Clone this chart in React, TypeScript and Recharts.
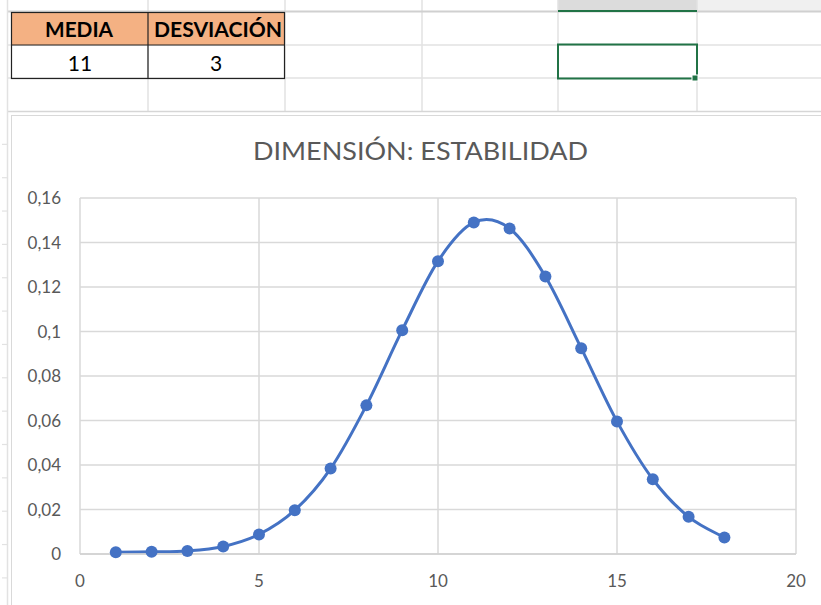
import React from 'react';
import { LineChart, Line, XAxis, YAxis, CartesianGrid } from 'recharts';

const xValues = [1, 2, 3, 4, 5, 6, 7, 8, 9, 10, 11, 12, 13, 14, 15, 16, 17, 18];
const densities = [0.0008, 0.001, 0.0014, 0.0034, 0.0088, 0.0197, 0.0384, 0.0668, 0.1006, 0.1316, 0.149, 0.1463, 0.1247, 0.0925, 0.0596, 0.0336, 0.0167, 0.0074];
const xTicks = [0, 5, 10, 15, 20];
const yTicks = [0, 0.02, 0.04, 0.06, 0.08, 0.1, 0.12, 0.14, 0.16];
const tableHeaders = ['MEDIA', 'DESVIACIÓN'];
const tableValues = ['11', '3'];
const chartTitle = 'DIMENSIÓN: ESTABILIDAD';

const data = xValues.map((x, i) => ({ x, y: densities[i] }));

// Excel-like smoothed line (Catmull-Rom style Bezier)
const excelCurve = (context: any) => {
  let pts: number[][] = [];
  return {
    areaStart() {},
    areaEnd() {},
    lineStart() { pts = []; },
    lineEnd() {
      const n = pts.length;
      if (!n) return;
      context.moveTo(pts[0][0], pts[0][1]);
      for (let i = 0; i < n - 1; i++) {
        const p0 = pts[i - 1] || pts[i];
        const p1 = pts[i];
        const p2 = pts[i + 1];
        const p3 = pts[i + 2] || p2;
        context.bezierCurveTo(
          p1[0] + (p2[0] - p0[0]) / 6, p1[1] + (p2[1] - p0[1]) / 6,
          p2[0] - (p3[0] - p1[0]) / 6, p2[1] - (p3[1] - p1[1]) / 6,
          p2[0], p2[1]
        );
      }
    },
    point(x: number, y: number) { pts.push([+x, +y]); },
  };
};

const FONT = 'Lato, "Open Sans", sans-serif';
const GRID = '#d9d9d9';
const SHEET = '#e2e2e2';

const colLines = [148, 285, 422, 558, 697];
const rowLines = [45, 78];
const leftTicks: number[] = [];
for (let k = 1; k < 15; k++) leftTicks.push(111 + k * 33.35);

export default function App() {
  return (
    <div style={{ position: 'absolute', left: 0, top: 0, width: 821, height: 605, background: '#fff', overflow: 'hidden' }}>
      <svg width={821} height={605} style={{ position: 'absolute', left: 0, top: 0 }}>
        {/* top strip */}
        <rect x={558} y={0} width={139} height={11} fill="#dcdcdc" />
        <rect x={697} y={0} width={124} height={11} fill="#f0f0f0" />
        {/* sheet grid */}
        {colLines.map((x) => (
          <line key={'c' + x} x1={x} y1={0} x2={x} y2={112} stroke={SHEET} strokeWidth={1.5} />
        ))}
        {rowLines.map((y) => (
          <line key={'r' + y} x1={8} y1={y} x2={821} y2={y} stroke={SHEET} strokeWidth={1.5} />
        ))}
        <line x1={8} y1={11.5} x2={821} y2={11.5} stroke="#d0d0d0" strokeWidth={2} />
        <line x1={8} y1={111.5} x2={821} y2={111.5} stroke="#d6d6d6" strokeWidth={1.5} />
        <line x1={7.5} y1={0} x2={7.5} y2={605} stroke={SHEET} strokeWidth={1.5} />
        {leftTicks.map((y) => (
          <line key={'t' + y} x1={2} y1={y} x2={8} y2={y} stroke={SHEET} strokeWidth={1.2} />
        ))}
        {/* table */}
        <rect x={11} y={12} width={274} height={33} fill="#F4B183" />
        <rect x={11.5} y={12.5} width={273} height={66} fill="none" stroke="#222" strokeWidth={1.2} />
        <line x1={11} y1={45} x2={285} y2={45} stroke="#222" strokeWidth={1.2} />
        <line x1={148} y1={12} x2={148} y2={78} stroke="#222" strokeWidth={1.2} />
        <text x={79} y={37} textAnchor="middle" fontFamily={FONT} fontWeight={700} fontSize={21} fill="#000" textLength={68} lengthAdjust="spacingAndGlyphs">{tableHeaders[0]}</text>
        <text x={218} y={37} textAnchor="middle" fontFamily={FONT} fontWeight={700} fontSize={21} fill="#000" textLength={128} lengthAdjust="spacingAndGlyphs">{tableHeaders[1]}</text>
        <text x={80} y={71} textAnchor="middle" fontFamily={FONT} fontSize={21} fill="#000">{tableValues[0]}</text>
        <text x={216} y={71} textAnchor="middle" fontFamily={FONT} fontSize={21} fill="#000">{tableValues[1]}</text>
        {/* selection */}
        <line x1={558} y1={11} x2={697} y2={11} stroke="#217346" strokeWidth={2} />
        <rect x={558} y={44.5} width={139} height={34} fill="none" stroke="#217346" strokeWidth={2} />
        <rect x={692} y={75} width={6} height={6} fill="#217346" stroke="#fff" strokeWidth={1} />
        {/* chart box */}
        <rect x={11.5} y={115.5} width={812} height={492} fill="#fff" stroke={GRID} strokeWidth={1} />
        <text x={420.5} y={160} textAnchor="middle" fontFamily={FONT} fontSize={25} fill="#595959" textLength={335} lengthAdjust="spacingAndGlyphs">{chartTitle}</text>
      </svg>
      <div style={{ position: 'absolute', left: 11, top: 115, width: 810, height: 490 }}>
        <LineChart width={810} height={490} data={data} margin={{ top: 83, right: 25, bottom: 0, left: 0 }}>
          <CartesianGrid stroke={GRID} strokeWidth={1.5} />
          <XAxis
            dataKey="x"
            type="number"
            domain={[0, 20]}
            ticks={xTicks}
            height={51}
            tickLine={false}
            tickSize={0}
            tickMargin={21}
            axisLine={{ stroke: '#d0d0d0', strokeWidth: 1.5 }}
            tick={{ fontFamily: FONT, fontSize: 17, fill: '#595959' }}
          />
          <YAxis
            type="number"
            domain={[0, 0.16]}
            ticks={yTicks}
            width={69}
            tickLine={false}
            tickSize={0}
            tickMargin={19}
            axisLine={false}
            tickFormatter={(v: number) => String(v).replace('.', ',')}
            tick={{ fontFamily: FONT, fontSize: 17, fill: '#595959' }}
          />
          <Line
            dataKey="y"
            type={excelCurve as any}
            stroke="#4472C4"
            strokeWidth={3}
            dot={{ r: 6, fill: '#4472C4', stroke: 'none' }}
            isAnimationActive={false}
          />
        </LineChart>
      </div>
    </div>
  );
}
